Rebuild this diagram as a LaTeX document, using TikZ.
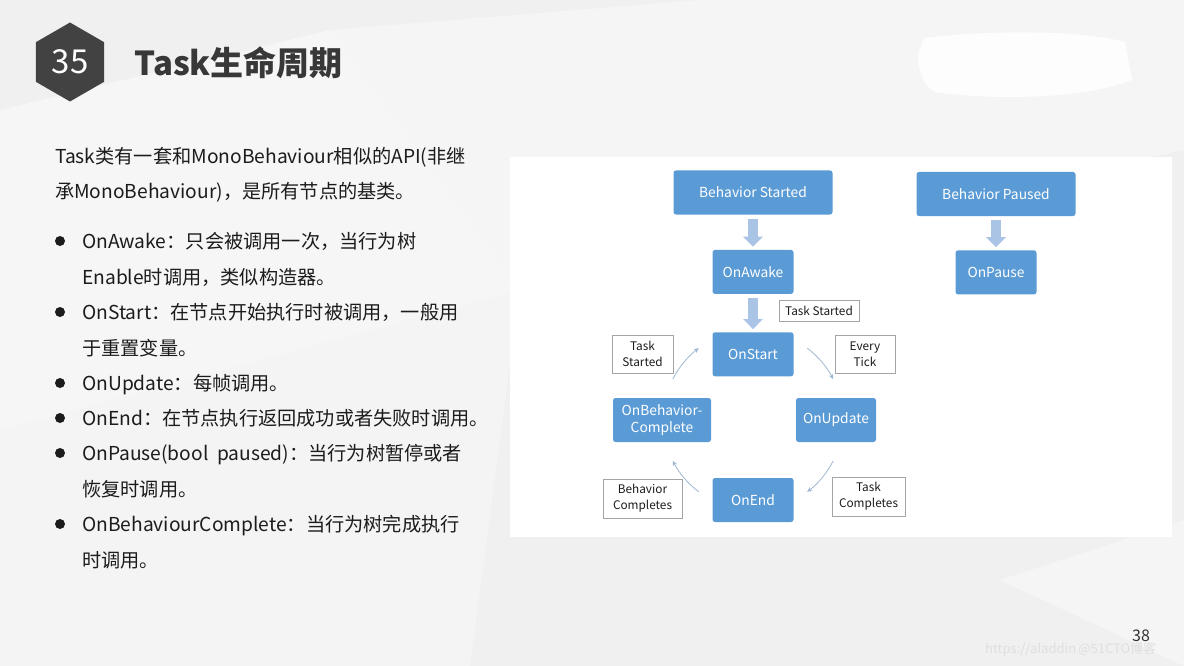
\documentclass[tikz,border=0pt]{standalone}
\usepackage{fontspec}
\setmainfont{Noto Sans CJK SC}
\usetikzlibrary{arrows.meta,positioning,shapes.geometric}

\definecolor{boxblue}{RGB}{91,155,213}
\definecolor{pale}{RGB}{170,196,230}
\definecolor{arcgray}{RGB}{160,184,214}
\definecolor{ink}{RGB}{28,28,28}
\definecolor{hexgray}{RGB}{66,66,66}
\definecolor{bg}{RGB}{240,240,240}
\definecolor{tagline}{RGB}{165,165,165}

\tikzset{
  stage/.style={fill=boxblue, rounded corners=2.5pt, text=white, align=center,
    font=\fontsize{13.8}{17}\selectfont, inner sep=0pt, minimum height=44pt},
  tag/.style={draw=tagline, line width=0.8pt, fill=white, text=ink, align=center,
    font=\fontsize{11.8}{16}\selectfont, inner sep=0pt},
  fat/.style={draw=pale, line width=10pt, -{Triangle[width=19pt,length=10pt]},
    shorten <=4pt, shorten >=3pt},
  cyc/.style={draw=arcgray, line width=0.8pt, -{Stealth[length=5pt,width=4.5pt]}},
  body/.style={anchor=base west, text=ink, inner sep=0pt,
    font=\fontsize{19.2}{22}\selectfont},
  dot/.style={circle, fill=ink, inner sep=0pt, minimum size=10pt}
}

\begin{document}
\begin{tikzpicture}[x=1pt,y=1pt]
\useasboundingbox (0,0) rectangle (1184,-666);
% slide background
\fill[bg] (0,0) rectangle (1184,-666);
\fill[white,opacity=0.45] (0,-110) -- (330,-30) -- (520,-290) -- (0,-430) -- cycle;
\fill[white,opacity=0.35] (330,-30) -- (700,0) -- (1184,0) -- (1184,-150) -- (520,-290) -- cycle;
\fill[white,opacity=0.3] (0,-430) -- (520,-290) -- (470,-666) -- (0,-666) -- cycle;
\fill[white,opacity=0.35] (1184,-520) -- (1000,-580) -- (1184,-666) -- cycle;
\fill[white,opacity=0.85] (925,-38) .. controls (990,-30) and (1080,-30) .. (1125,-42)
  -- (1132,-80) .. controls (1080,-100) and (990,-100) .. (935,-92)
  .. controls (915,-80) and (915,-50) .. (925,-38) -- cycle;

% heading
\node[regular polygon, regular polygon sides=6, shape border rotate=30,
  minimum size=79pt, fill=hexgray, text=white, inner sep=0pt,
  font=\fontsize{33}{36}\selectfont] (num) at (70,-62) {35};
\node[anchor=west, inner sep=0pt, text={rgb,255:red,56;green,56;blue,56},
  font=\fontsize{33}{36}\selectfont\bfseries] (title) at (134,-63) {Task生命周期};

% left text
\node[body] (p1) at (55,-164) {Task类有一套和MonoBehaviour相似的API(非继};
\node[body] (p2) at (55,-199) {承MonoBehaviour)，是所有节点的基类。};
\foreach \n/\y in {1/241, 2/312, 3/383, 4/418, 5/453, 6/524}
  \node[dot] (d\n) at (60,-\y) {};
\node[body] (l1) at (82,-248) {OnAwake：只会被调用一次，当行为树};
\node[body] (l2) at (82,-284) {Enable时调用，类似构造器。};
\node[body] (l3) at (82,-319) {OnStart：在节点开始执行时被调用，一般用};
\node[body] (l4) at (82,-355) {于重置变量。};
\node[body] (l5) at (82,-390) {OnUpdate：每帧调用。};
\node[body] (l6) at (82,-425) {OnEnd：在节点执行返回成功或者失败时调用。};
\node[body] (l7) at (82,-460) {OnPause(bool\ \ paused)：当行为树暂停或者};
\node[body] (l8) at (82,-496) {恢复时调用。};
\node[body] (l9) at (82,-531) {OnBehaviourComplete：当行为树完成执行};
\node[body] (l10) at (82,-567) {时调用。};

% diagram panel
\fill[white] (510,-157) rectangle (1172,-537);
\node[stage, minimum width=159pt] (bs) at (753,-192.5) {Behavior Started};
\node[stage, minimum width=81pt, below=35pt of bs] (oa) {OnAwake};
\node[stage, minimum width=81pt, below=38pt of oa] (os) {OnStart};
\node[stage, minimum width=80pt] (ou) at (836,-420) {OnUpdate};
\node[stage, minimum width=81pt] (oe) at (753,-500) {OnEnd};
\node[stage, minimum width=98pt] (obc) at (662,-420) {OnBehavior-\\Complete};
\node[stage, minimum width=159pt] (bp) at (996,-194) {Behavior Paused};
\node[stage, minimum width=81pt, below=34pt of bp] (op) {OnPause};

\draw[fat] (bs) -- (oa);
\draw[fat] (oa) -- (os);
\draw[fat] (bp) -- (op);

\node[tag, minimum width=80pt, minimum height=21pt] (t1) at (819,-311) {Task Started};
\node[tag, minimum width=61pt, minimum height=38pt] (t2) at (642.5,-354) {Task\\Started};
\node[tag, minimum width=60pt, minimum height=38pt] (t3) at (865,-354) {Every\\Tick};
\node[tag, minimum width=79pt, minimum height=39pt] (t4) at (642.5,-498.5) {Behavior\\Completes};
\node[tag, minimum width=73pt, minimum height=39pt] (t5) at (868.5,-496.5) {Task\\Completes};

% the cycle
\coordinate (hub) at (753,-420);
\foreach \a in {153,53,-27,233}
  \draw[cyc] ([shift={(\a:90)}]hub) arc[start angle=\a, end angle=\a-26, radius=90];

% footer
\node[text={rgb,255:red,50;green,50;blue,50}, font=\fontsize{16}{18}\selectfont] (pg) at (1141,-636) {38};
\node[anchor=west, inner sep=0pt, text=gray!25, font=\fontsize{13}{15}\selectfont] (wm) at (985,-649) {https://aladdin\,@51CTO博客};
\end{tikzpicture}
\end{document}
